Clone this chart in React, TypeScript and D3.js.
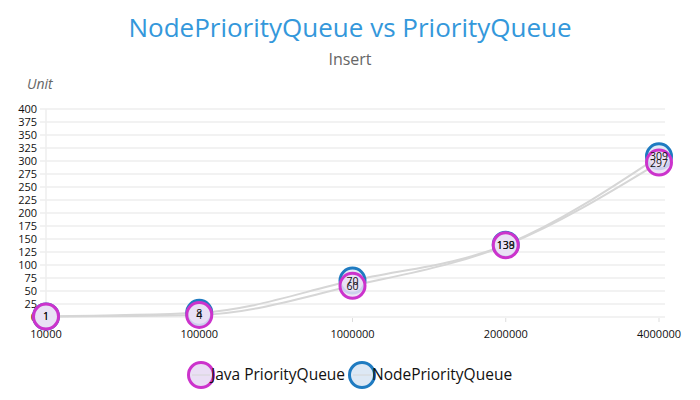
import React from 'react';
import * as d3 from 'd3';

// 数据
const categories = ['10000', '100000', '1000000', '2000000', '4000000'];
const javaValues = [1, 4, 60, 138, 297];
const nodeValues = [1, 8, 70, 139, 309];
const yTicks = d3.range(0, 401, 25);

const seriesList = [
  { name: 'NodePriorityQueue', values: nodeValues, stroke: '#1f7bc1', fill: '#dde8f5' },
  { name: 'Java PriorityQueue', values: javaValues, stroke: '#cc33cc', fill: '#eadff5' },
];

const width = 700;
const height = 400;
const margin = { top: 109, right: 41, bottom: 83, left: 46 };

const App: React.FC = () => {
  const xScale = d3.scalePoint<string>()
    .domain(categories)
    .range([margin.left, width - margin.right]);

  const yScale = d3.scaleLinear()
    .domain([0, 400])
    .range([height - margin.bottom, margin.top]);

  const line = d3.line<number>()
    .x((_, i) => xScale(categories[i]) as number)
    .y(d => yScale(d))
    .curve(d3.curveMonotoneX);

  const font = '"Open Sans", "Noto Sans", sans-serif';

  return (
    <svg width={width} height={height} style={{ position: 'absolute', left: 0, top: 0 }} fontFamily={font}>
      <text x={350} y={37} textAnchor="middle" fontSize={26} fill="#3498db">NodePriorityQueue vs PriorityQueue</text>
      <text x={350} y={65} textAnchor="middle" fontSize={16} fill="#666">Insert</text>
      <text x={27} y={89} fontSize={14} fontStyle="italic" fill="#666">Unit</text>

      {/* 网格线 */}
      {yTicks.map(t => (
        <g key={t}>
          <line x1={40} x2={665} y1={yScale(t)} y2={yScale(t)} stroke="#eee" strokeWidth={1.5} />
          <text x={37} y={yScale(t) + 4} textAnchor="end" fontSize={11} fill="#111">{t}</text>
        </g>
      ))}
      <line x1={xScale(categories[0])} x2={xScale(categories[0])} y1={yScale(400)} y2={yScale(0)} stroke="#eee" strokeWidth={1.5} />
      {categories.map(c => (
        <g key={c}>
          <line x1={xScale(c)} x2={xScale(c)} y1={yScale(0) + 1} y2={yScale(0) + 5} stroke="#ddd" />
          <text x={xScale(c)} y={yScale(0) + 21} textAnchor="middle" fontSize={11} fill="#111">{c}</text>
        </g>
      ))}

      {/* 折线 */}
      {seriesList.map(s => (
        <path key={s.name} d={line(s.values) || ''} fill="none" stroke="#d6d6d6" strokeWidth={2} />
      ))}

      {/* 点 */}
      {seriesList.map(s => (
        <g key={s.name}>
          {s.values.map((v, i) => (
            <circle key={i} cx={xScale(categories[i])} cy={yScale(v)} r={12.5} fill={s.fill} fillOpacity={0.85} stroke={s.stroke} strokeWidth={3} />
          ))}
        </g>
      ))}

      {/* 标签 */}
      {seriesList.map(s => (
        <g key={s.name}>
          {s.values.map((v, i) => (
            <text key={i} x={xScale(categories[i])} y={yScale(v) + 4} textAnchor="middle" fontSize={10.5} fill="#111">{v}</text>
          ))}
        </g>
      ))}

      {/* 图例 */}
      {[seriesList[1], seriesList[0]].map((s, i) => {
        const lx = 201 + i * 161;
        return (
          <g key={s.name}>
            <circle cx={lx} cy={375} r={12.5} fill={s.fill} stroke={s.stroke} strokeWidth={3} />
            <line x1={lx - 9} x2={lx + 9} y1={375} y2={375} stroke="#d6d6d6" />
            <text x={lx + 10} y={380} fontSize={15.5} fill="#111">{s.name}</text>
          </g>
        );
      })}
    </svg>
  );
};

export default App;
